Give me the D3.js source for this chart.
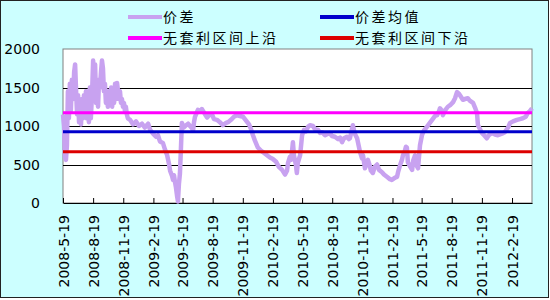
<!DOCTYPE html>
<html><head><meta charset="utf-8">
<script src="https://cdn.jsdelivr.net/npm/d3@7"></script>
<style>
html,body{margin:0;padding:0;background:#fff;}
svg{display:block;}
</style></head>
<body>
<svg id="c" width="550" height="300"></svg>
<script>
// ---- data ----
const seriesNames = ["价差","价差均值","无套利区间上沿","无套利区间下沿"];
const dates = ["2008-05-19","2008-05-22","2008-05-25","2008-05-28","2008-05-31","2008-06-03","2008-06-06","2008-06-09","2008-06-12","2008-06-15","2008-06-19","2008-06-22","2008-06-25","2008-06-28","2008-07-01","2008-07-04","2008-07-07","2008-07-10","2008-07-13","2008-07-16","2008-07-19","2008-07-22","2008-07-25","2008-07-28","2008-07-31","2008-08-03","2008-08-06","2008-08-09","2008-08-12","2008-08-16","2008-08-19","2008-08-22","2008-08-25","2008-08-28","2008-08-31","2008-09-03","2008-09-06","2008-09-09","2008-09-12","2008-09-15","2008-09-18","2008-09-21","2008-09-24","2008-09-27","2008-09-30","2008-10-03","2008-10-06","2008-10-09","2008-10-13","2008-10-16","2008-10-19","2008-10-22","2008-10-25","2008-10-28","2008-10-31","2008-11-03","2008-11-06","2008-11-09","2008-11-12","2008-11-15","2008-11-18","2008-11-21","2008-11-24","2008-11-27","2008-11-30","2008-12-03","2008-12-10","2008-12-19","2008-12-28","2009-01-06","2009-01-15","2009-01-24","2009-02-03","2009-02-09","2009-02-18","2009-02-27","2009-03-05","2009-03-11","2009-03-20","2009-03-26","2009-04-02","2009-04-08","2009-04-11","2009-04-17","2009-04-20","2009-04-23","2009-04-26","2009-04-29","2009-05-02","2009-05-05","2009-05-08","2009-05-11","2009-05-14","2009-05-17","2009-05-23","2009-05-30","2009-06-05","2009-06-11","2009-06-17","2009-06-20","2009-06-23","2009-06-26","2009-07-02","2009-07-05","2009-07-11","2009-07-17","2009-07-20","2009-07-27","2009-08-02","2009-08-08","2009-08-17","2009-08-23","2009-09-01","2009-09-10","2009-09-19","2009-09-29","2009-10-05","2009-10-14","2009-10-23","2009-11-01","2009-11-10","2009-11-20","2009-11-29","2009-12-08","2009-12-14","2009-12-20","2009-12-26","2010-01-04","2010-01-13","2010-01-23","2010-02-01","2010-02-10","2010-02-19","2010-02-28","2010-03-09","2010-03-19","2010-03-28","2010-04-03","2010-04-06","2010-04-12","2010-04-15","2010-04-18","2010-04-21","2010-04-24","2010-04-30","2010-05-03","2010-05-06","2010-05-13","2010-05-16","2010-05-19","2010-05-25","2010-05-31","2010-06-06","2010-06-12","2010-06-21","2010-06-27","2010-07-07","2010-07-13","2010-07-19","2010-07-28","2010-08-06","2010-08-12","2010-08-18","2010-08-27","2010-09-06","2010-09-12","2010-09-18","2010-09-24","2010-10-03","2010-10-09","2010-10-12","2010-10-18","2010-10-21","2010-10-27","2010-11-03","2010-11-09","2010-11-12","2010-11-18","2010-11-21","2010-11-27","2010-12-03","2010-12-06","2010-12-12","2010-12-15","2010-12-21","2010-12-27","2011-01-03","2011-01-09","2011-01-18","2011-01-24","2011-02-02","2011-02-11","2011-02-17","2011-02-27","2011-03-05","2011-03-08","2011-03-14","2011-03-20","2011-03-23","2011-03-29","2011-04-01","2011-04-04","2011-04-07","2011-04-13","2011-04-20","2011-04-23","2011-04-29","2011-05-02","2011-05-08","2011-05-11","2011-05-14","2011-05-20","2011-05-26","2011-06-04","2011-06-13","2011-06-20","2011-06-29","2011-07-05","2011-07-11","2011-07-14","2011-07-20","2011-07-23","2011-07-29","2011-08-07","2011-08-14","2011-08-23","2011-08-29","2011-09-04","2011-09-10","2011-09-13","2011-09-19","2011-09-22","2011-09-28","2011-10-07","2011-10-13","2011-10-23","2011-10-29","2011-11-04","2011-11-07","2011-11-13","2011-11-19","2011-11-28","2011-12-04","2011-12-10","2011-12-20","2011-12-29","2012-01-07","2012-01-19","2012-01-28","2012-02-07","2012-02-13","2012-02-22","2012-03-05","2012-03-14","2012-03-23","2012-04-01","2012-04-07","2012-04-13","2012-04-20"];
const spread = [1150,1000,600,560,750,1450,1100,1550,1200,1600,1350,1700,1800,1450,1150,1400,1050,1300,1020,1350,1100,1400,1150,1450,1100,1350,1050,1500,1100,1450,1850,1600,1800,1300,1550,1250,1600,1500,1700,1850,1750,1450,1550,1300,1400,1250,1450,1300,1500,1250,1450,1300,1550,1350,1560,1450,1350,1450,1300,1350,1250,1300,1200,1250,1150,1100,1080,1020,1060,1000,1030,980,1030,950,900,860,880,800,780,700,620,500,420,350,300,360,270,200,100,20,250,380,700,1040,980,1010,1030,1000,970,940,1050,1120,1180,1210,1190,1220,1200,1150,1110,1140,1150,1090,1080,1050,1010,1040,1050,1080,1120,1140,1130,1120,1070,1020,960,880,810,720,680,650,620,590,570,540,470,430,370,420,520,600,560,660,790,620,500,390,520,620,750,880,950,930,990,1010,1000,960,950,910,920,880,900,910,870,860,830,850,790,840,860,830,840,950,1010,900,840,720,660,580,620,450,520,560,480,420,390,470,500,430,400,370,340,310,300,330,340,400,490,560,620,680,730,720,530,480,430,550,620,500,450,600,750,880,940,990,1040,1080,1130,1140,1190,1230,1200,1140,1200,1250,1270,1310,1360,1440,1420,1400,1360,1340,1350,1360,1330,1300,1240,1170,1010,960,910,870,840,880,910,890,880,900,920,980,1040,1060,1080,1090,1100,1120,1170,1190,1230];
const meanValue = 926;
const upperValue = 1173;
const lowerValue = 667;
const xTickLabels = ["2008-5-19","2008-8-19","2008-11-19","2009-2-19","2009-5-19","2009-8-19","2009-11-19","2010-2-19","2010-5-19","2010-8-19","2010-11-19","2011-2-19","2011-5-19","2011-8-19","2011-11-19","2012-2-19"];
const yTicks = [0,500,1000,1500,2000];
const colors = ["#C8A2F0","#0000CC","#FF00FF","#DD0000"];

// ---- layout ----
const svg = d3.select("#c");
const L = 63, R = 532, T = 49, B = 203;
svg.append("rect").attr("x",0.5).attr("y",0.5).attr("width",548).attr("height",297)
  .attr("fill","#CCFFFF").attr("stroke","#222").attr("stroke-width",1);

const parse = d3.timeParse("%Y-%m-%d");
const data = dates.map((d,i)=>({date:parse(d), v:spread[i]}));
const x = d3.scaleTime().domain([parse("2008-05-19"), parse("2012-04-20")]).range([L,R]);
const y = d3.scaleLinear().domain([0,2000]).range([B,T]);

// plot area
svg.append("rect").attr("x",L).attr("y",T).attr("width",R-L).attr("height",B-T)
  .attr("fill","#fff").attr("stroke","#808080").attr("stroke-width",1);

// gridlines
svg.append("g").selectAll("line").data(yTicks.filter(t=>t>0 && t<2000)).join("line")
  .attr("x1",L).attr("x2",R).attr("y1",d=>Math.round(y(d))+0.5).attr("y2",d=>Math.round(y(d))+0.5)
  .attr("stroke","#000").attr("stroke-width",1);

// y labels
svg.append("g").selectAll("text").data(yTicks).join("text")
  .attr("x",40).attr("y",d=>y(d)).attr("dy","0.36em").attr("text-anchor","end")
  .attr("font-family","DejaVu Sans").attr("font-size",14).attr("fill","#000").text(d=>d);

// x axis
const tickDates = xTickLabels.map(s=>{const p=s.split("-");return new Date(+p[0],+p[1]-1,+p[2]);});
const xAxis = d3.axisBottom(x).tickValues(tickDates).tickSizeInner(-5).tickSizeOuter(0).tickFormat((d,i)=>xTickLabels[i]);
const gx = svg.append("g").attr("transform",`translate(0,${B})`).call(xAxis);
gx.select(".domain").attr("stroke","#000");
gx.selectAll(".tick line").attr("stroke","#000");
gx.selectAll(".tick text")
  .attr("font-family","DejaVu Sans").attr("font-size",14).attr("fill","#000")
  .attr("text-anchor","end").attr("transform","rotate(-90)")
  .attr("x",-12).attr("y",0).attr("dy","0.36em");

// lines
const line = d3.line().x(d=>x(d.date)).y(d=>y(d.v)).curve(d3.curveLinear);
svg.append("path").datum(data).attr("d",line).attr("fill","none")
  .attr("stroke",colors[0]).attr("stroke-width",4.5).attr("stroke-linejoin","round");
[meanValue,upperValue,lowerValue].forEach((v,i)=>{
  svg.append("line").attr("x1",L).attr("x2",R).attr("y1",y(v)).attr("y2",y(v))
    .attr("stroke",colors[i+1]).attr("stroke-width",3);
});

// legend
const leg = [
  {name:seriesNames[0], c:colors[0], x:128, y:17},
  {name:seriesNames[1], c:colors[1], x:320, y:17},
  {name:seriesNames[2], c:colors[2], x:128, y:38},
  {name:seriesNames[3], c:colors[3], x:320, y:38}
];
const lg = svg.append("g");
leg.forEach(l=>{
  lg.append("line").attr("x1",l.x).attr("x2",l.x+34).attr("y1",l.y).attr("y2",l.y)
    .attr("stroke",l.c).attr("stroke-width",4);
  lg.append("text").attr("x",l.x+35).attr("y",l.y).attr("dy","0.36em")
    .attr("font-family","Noto Sans CJK SC").attr("font-size",14).attr("letter-spacing",2.5)
    .attr("fill","#000").text(l.name);
});
</script>
</body></html>
